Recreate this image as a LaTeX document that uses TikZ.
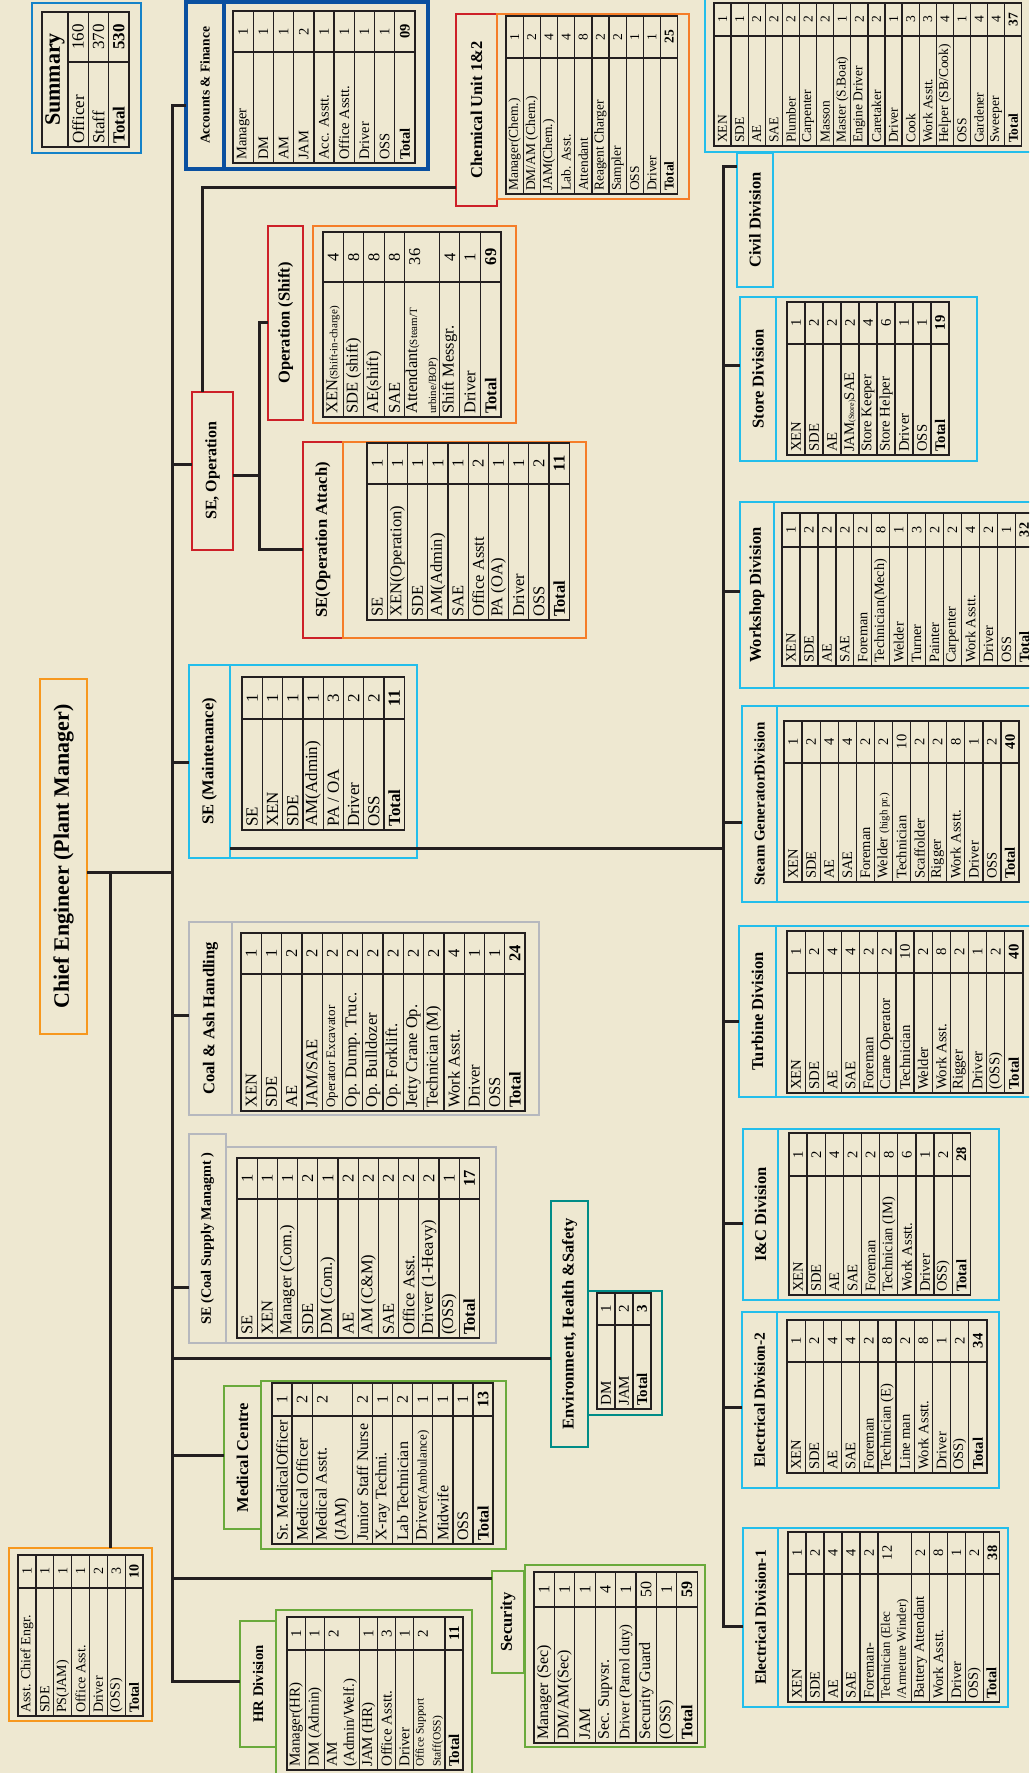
\documentclass[tikz,border=0pt]{standalone}
\usepackage{fontspec}
\setmainfont{Liberation Serif}
\definecolor{bgc}{RGB}{238,232,209}
\definecolor{lnc}{RGB}{35,31,32}
\definecolor{cyanc}{RGB}{35,190,235}
\definecolor{redc}{RGB}{205,32,40}
\definecolor{orc}{RGB}{245,125,40}
\definecolor{goldc}{RGB}{247,152,30}
\definecolor{grayc}{RGB}{182,184,190}
\definecolor{greenc}{RGB}{106,170,60}
\definecolor{tealc}{RGB}{0,140,135}
\definecolor{sumc}{RGB}{20,130,200}
\definecolor{accc}{RGB}{10,80,160}
\newcommand{\fsz}[2]{\fontsize{#1}{#2}\selectfont}
% #1 name, #2 left, #3 split, #4 right, #5 top, #6 row pitch, #7 font, #8 rows
\newcommand{\stafftab}[8]{%
  \foreach \ra/\rb/\nm/\nv [count=\rk] in {#8}{%
    \draw[tabline] (#2,{#5+\ra*#6}) rectangle (#4,{#5+\rb*#6});
    \draw[tabline] (#3,{#5+\ra*#6}) -- (#3,{#5+\rb*#6});
    \node[namecell, font=#7] (#1-n\rk) at ({#2+3},{#5+0.5*(\ra+\rb)*#6}) {\nm};
    \node[numcell, font=#7] (#1-v\rk) at ({0.5*(#3+#4)},{#5+(\ra+0.5)*#6}) {\nv};
  }%
}
\tikzset{
  conn/.style={draw=lnc, line width=3pt, line cap=rect},
  hdr/.style={draw=#1, line width=2.8pt, inner sep=0pt, align=center},
  tabbox/.style={draw=#1, line width=2.8pt, inner sep=0pt},
  tabline/.style={draw=lnc, line width=1.3pt},
  namecell/.style={anchor=west, inner sep=0pt, align=left},
  numcell/.style={inner sep=0pt}
}
\begin{document}
\begin{tikzpicture}
\begin{scope}[x=1pt, y=-1pt, rotate=90, transform shape]
\path[use as bounding box, fill=bgc] (0,0) rectangle (1773,1029);
\clip (0,0) rectangle (1773,1029);

\node[tabbox=sumc, minimum width=150, minimum height=109] (sumbox) at (1695,86.5) {};
\draw[tabline] (1626,42) rectangle (1761,68);
\node[font=\bfseries\fsz{22}{24}] (sumtitle) at (1693.5,55) {Summary};
\stafftab{sumt}{1626}{1711}{1761}{68}{20.33}{\fsz{17}{19}}{0/1/Officer/160, 1/2/Staff/370, 2/3/\textbf{Total}/\textbf{530}}

\node[hdr=goldc, minimum width=355, minimum height=47, font=\bfseries\fsz{22}{24}] (chief) at (916.5,63.5) {Chief Engineer (Plant Manager)};
\node[tabbox=goldc, minimum width=173, minimum height=143] (asstbox) at (138.5,80.5) {};
\stafftab{asstt}{57}{185}{218}{18}{17.86}{\fsz{14}{16}}{0/1/Asst. Chief Engr./1, 1/2/SDE/1, 2/3/PS(JAM)/1, 3/4/Office Asst./1, 4/5/Driver/2, 5/6/(OSS)/3, 6/7/\textbf{Total}/\textbf{10}}

\node[hdr=accc, line width=3.5pt, minimum width=167, minimum height=38, font=\bfseries\fsz{13.5}{15}] (acc) at (1687.5,205) {Accounts \& Finance};
\node[tabbox=accc, line width=3.5pt, minimum width=167, minimum height=204] (accbox) at (1687.5,326) {};
\stafftab{acct}{1610}{1721}{1762}{233}{20.22}{\fsz{14.5}{17}}{0/1/Manager/1, 1/2/DM/1, 2/3/AM/1, 3/4/JAM/2, 4/5/Acc. Asstt./1, 5/6/Office Asstt./1, 6/7/Driver/1, 7/8/OSS/1, 8/9/\textbf{Total}/\textbf{09}}

\node[hdr=redc, minimum width=158, minimum height=41, font=\bfseries\fsz{16}{18}] (seop) at (1302,212.5) {SE, Operation};
\node[hdr=redc, minimum width=194, minimum height=35, font=\bfseries\fsz{16.5}{18}] (opshift) at (1450,285.5) {Operation (Shift)};
\node[tabbox=orc, minimum width=197, minimum height=203] (opshiftbox) at (1448.5,414.5) {};
\stafftab{opst}{1356}{1491}{1541}{323}{20.4}{\fsz{16.5}{19}}{0/1/XEN{\fsz{11}{12}(Shift-in-charge)}/4, 1/2/SDE (shift)/8, 2/3/AE(shift)/8, 3/4/SAE/8, 4/5.72/{Attendant{\fsz{11}{12}(Steam/T}\\{\fsz{11}{12}urbine/BOP)}}/36, 5.72/6.7/Shift Messgr./4, 6.7/7.72/Driver/1, 7.72/8.73/\textbf{Total}/\textbf{69}}
\node[hdr=redc, minimum width=196, minimum height=40, font=\bfseries\fsz{16.5}{18}] (opatt) at (1233,323) {SE(Operation Attach)};
\node[tabbox=orc, minimum width=196, minimum height=243] (opattbox) at (1233,464.5) {};
\stafftab{opat}{1153}{1289}{1330}{367}{20.23}{\fsz{16.5}{19}}{0/1/SE/1, 1/2/XEN(Operation)/1, 2/3/SDE/1, 3/4/AM(Admin)/1, 4/5/SAE/1, 5/6/Office Asstt/2, 6/7/PA (OA)/1, 7/8/Driver/1, 8/9/OSS/2, 9/10/\textbf{Total}/\textbf{11}}
\node[hdr=redc, minimum width=192, minimum height=41, font=\bfseries\fsz{16.5}{18}] (chem) at (1663,476.5) {Chemical Unit 1\&2};
\node[tabbox=orc, minimum width=185, minimum height=192] (chembox) at (1666.5,593) {};
\stafftab{chemt}{1579}{1715}{1757}{506}{17.17}{\fsz{13.5}{15}}{0/1/Manager(Chem.)/1, 1/2/{DM/AM (Chem.)}/2, 2/3/JAM(Chem.)/4, 3/4/Lab. Asst./4, 4/5/Attendant/8, 5/6/Reagent Charger/2, 6/7/Sampler/2, 7/8/OSS/1, 8/9/Driver/1, 9/10/\textbf{Total}/\textbf{25}}

\node[hdr=cyanc, minimum width=193, minimum height=41, font=\bfseries\fsz{16.5}{18}] (semaint) at (1011.5,209.5) {SE (Maintenance)};
\node[tabbox=cyanc, minimum width=193, minimum height=187] (semaintbox) at (1011.5,323.5) {};
\stafftab{smt}{943}{1054}{1096}{242}{20.3}{\fsz{17}{19}}{0/1/SE/1, 1/2/XEN/1, 2/3/SDE/1, 3/4/AM(Admin)/1, 4/5/{PA / OA}/3, 5/6/Driver/2, 6/7/OSS/2, 7/8/\textbf{Total}/\textbf{11}}
\node[hdr=grayc, minimum width=193, minimum height=43, font=\bfseries\fsz{16.5}{18}] (coal) at (754.5,210.5) {Coal \& Ash Handling};
\node[tabbox=grayc, minimum width=193, minimum height=307] (coalbox) at (754.5,385.5) {};
\stafftab{cat}{662}{799}{840}{241}{20.29}{\fsz{16.5}{19}}{0/1/XEN/1, 1/2/SDE/1, 2/3/AE/2, 3/4/{JAM/SAE}/2, 4/5/{\fsz{13}{14}Operator Excavator}/2, 5/6/Op. Dump. Truc./2, 6/7/Op. Bulldozer/2, 7/8/Op. Forklift./2, 8/9/Jetty Crane Op./2, 9/10/Technician (M)/2, 10/11/Work Asstt./4, 11/12/Driver/1, 12/13/OSS/1, 13/14/\textbf{Total}/\textbf{24}}
\node[hdr=grayc, minimum width=209, minimum height=37, font=\bfseries\fsz{14.3}{16}] (coalsup) at (534.5,207.5) {SE (Coal Supply Managmt )};
\node[tabbox=grayc, minimum width=196, minimum height=270] (coalsupbox) at (528,361) {};
\stafftab{cst}{435}{574}{615}{237}{20.2}{\fsz{16.5}{19}}{0/1/SE/1, 1/2/XEN/1, 2/3/Manager (Com.)/1, 3/4/SDE/2, 4/5/DM (Com.)/1, 5/6/AE/2, 6/7/AM (C\&M)/2, 7/8/SAE/2, 8/9/Office Asst./2, 9/10/Driver (1-Heavy)/2, 10/11/(OSS)/1, 11/12/\textbf{Total}/\textbf{17}}
\node[hdr=tealc, minimum width=246, minimum height=37, font=\bfseries\fsz{16.5}{18}] (env) at (449,569.5) {Environment, Health \&Safety};
\node[tabbox=tealc, minimum width=124, minimum height=74] (envbox) at (420,625) {};
\stafftab{envt}{364}{448}{480}{597}{18}{\fsz{15}{17}}{0/1/DM/1, 1/2/JAM/2, 2/3/\textbf{Total}/\textbf{3}}
\node[hdr=greenc, minimum width=143, minimum height=37, font=\bfseries\fsz{16.5}{18}] (med) at (315.5,242.5) {Medical Centre};
\node[tabbox=greenc, minimum width=168, minimum height=245] (medbox) at (308,383.5) {};
\stafftab{medt}{229}{357}{390}{272}{20.1}{\fsz{16}{19}}{0/1/Sr. MedicalOfficer/1, 1/2/Medical Officer/2, 2/4/{Medical Asstt.\\(JAM)}/2, 4/5/Junior Staff Nurse/2, 5/6/X-ray Techni./1, 6/7/Lab Technician/2, 7/8/Driver{\fsz{13}{14}(Ambulance)}/1, 8/9/Midwife/1, 9/10/OSS/1, 10/11/\textbf{Total}/\textbf{13}}
\node[hdr=greenc, minimum width=102, minimum height=32, font=\bfseries\fsz{16.5}{18}] (sec) at (151,508) {Security};
\node[tabbox=greenc, minimum width=182, minimum height=180] (secbox) at (117,615) {};
\stafftab{sect}{30}{166}{201}{534}{20.4}{\fsz{16}{19}}{0/1/Manager (Sec)/1, 1/2/{DM/AM(Sec)}/1, 2/3/JAM/1, 3/4/Sec. Supvsr./4, 4/5/{\fsz{14.5}{16}Driver (Patrol duty)}/1, 5/6/Security Guard/50, 6/7/(OSS)/1, 7/8/\textbf{Total}/\textbf{59}}
\node[hdr=greenc, minimum width=126, minimum height=36, font=\bfseries\fsz{14.7}{16}] (hr) at (89,258) {HR Division};
\node[tabbox=greenc, minimum width=183, minimum height=196] (hrbox) at (71.5,374) {};
\stafftab{hrt}{3}{123}{156}{287}{18.3}{\fsz{15}{17}}{0/1/Manager(HR)/1, 1/2.05/DM (Admin)/1, 2.05/3.95/{AM\\(Admin/Welf.)}/2, 3.95/4.95/JAM (HR)/1, 4.95/5.93/Office Asstt./3, 5.93/6.92/Driver/1, 6.92/8.63/{{\fsz{11.5}{13}Office Support}\\{\fsz{11.5}{13}Staff(OSS)}}/2, 8.63/9.62/\textbf{Total}/\textbf{11}}

\node[hdr=cyanc, minimum width=134, minimum height=36, font=\bfseries\fsz{16.5}{18}] (civil) at (1553,755) {Civil Division};
\node[tabbox=cyanc, minimum width=179, minimum height=335] (civilbox) at (1710.5,872.5) {};
\stafftab{civt}{1627}{1737}{1770}{714}{17.1}{\fsz{13.5}{15}}{0/1/XEN/1, 1/2/SDE/1, 2/3/AE/2, 3/4/SAE/2, 4/5/Plumber/2, 5/6/Carpenter/2, 6/7/Masson/2, 7/8/Master (S.Boat)/1, 8/9/Engine Driver/2, 9/10/Caretaker/2, 10/11/Driver/1, 11/12/Cook/3, 12/13/Work Asstt./3, 13/14/{Helper (SB/Cook)}/4, 14/15/OSS/1, 15/16/Gardener/4, 16/17/Sweeper/4, 17/18/\textbf{Total}/\textbf{37}}
\node[hdr=cyanc, minimum width=164, minimum height=36, font=\bfseries\fsz{16.5}{18}] (store) at (1394,758) {Store Division};
\node[tabbox=cyanc, minimum width=164, minimum height=201] (storebox) at (1394,876.5) {};
\stafftab{stot}{1318}{1429}{1471}{787}{18}{\fsz{14.7}{16}}{0/1/XEN/1, 1/2/SDE/2, 2/3/AE/2, 3/4/JAM{\fsz{8}{9}(Store)}SAE/2, 4/5/Store Keeper/4, 5/6/Store Helper/6, 6/7/Driver/1, 7/8/OSS/1, 8/9/\textbf{Total}/\textbf{19}}
\node[hdr=cyanc, minimum width=186, minimum height=34, font=\bfseries\fsz{16.5}{18}] (work) at (1178,757) {Workshop Division};
\node[tabbox=cyanc, minimum width=186, minimum height=266] (workbox) at (1178,907) {};
\stafftab{wrkt}{1107}{1226}{1260}{782}{17.95}{\fsz{14.2}{16}}{0/1/XEN/1, 1/2/SDE/2, 2/3/AE/2, 3/4/SAE/2, 4/5/Foreman/2, 5/6/Technician(Mech)/8, 6/7/Welder/1, 7/8/Turner/3, 8/9/Painter/2, 9/10/Carpenter/2, 10/11/Work Asstt./4, 11/12/Driver/2, 12/13/OSS/1, 13/14/\textbf{Total}/\textbf{32}}
\node[hdr=cyanc, minimum width=196, minimum height=35, font=\bfseries\fsz{15}{17}] (steam) at (969,759.5) {Steam GeneratorDivision};
\node[tabbox=cyanc, minimum width=196, minimum height=263] (steambox) at (969,908.5) {};
\stafftab{stmt}{891}{1010}{1052}{784}{18.08}{\fsz{14.5}{16}}{0/1/XEN/1, 1/2/SDE/2, 2/3/AE/4, 3/4/SAE/4, 4/5/Foreman/2, 5/6/Welder {\fsz{11}{12}(high pr.)}/2, 6/7/Technician/10, 7/8/Scaffolder/2, 8/9/Rigger/2, 9/10/Work Asstt./8, 10/11/Driver/1, 11/12/OSS/2, 12/13/\textbf{Total}/\textbf{40}}
\node[hdr=cyanc, minimum width=171, minimum height=37, font=\bfseries\fsz{16.5}{18}] (turb) at (761.5,757.5) {Turbine Division};
\node[tabbox=cyanc, minimum width=171, minimum height=264] (turbbox) at (761.5,908) {};
\stafftab{trbt}{680}{800}{842}{787}{18.15}{\fsz{14.8}{16}}{0/1/XEN/1, 1/2/SDE/2, 2/3/AE/4, 3/4/SAE/4, 4/5/Foreman/2, 5/6/Crane Operator/2, 6/7/Technician/10, 7/8/Welder/2, 8/9/Work Asst./8, 9/10/Rigger/2, 10/11/Driver/1, 11/12/(OSS)/2, 12/13/\textbf{Total}/\textbf{40}}
\node[hdr=cyanc, minimum width=171, minimum height=35, font=\bfseries\fsz{16.5}{18}] (inc) at (558.5,760.5) {I\&C Division};
\node[tabbox=cyanc, minimum width=171, minimum height=221] (incbox) at (558.5,888.5) {};
\stafftab{inct}{478}{597}{640}{789}{18.14}{\fsz{14.6}{16}}{0/1/XEN/1, 1/2/SDE/2, 2/3/AE/4, 3/4/SAE/2, 4/5/Foreman/2, 5/6/Technician (IM)/8, 6/7/Work Asstt./6, 7/8/Driver/1, 8/9/OSS)/2, 9/10/\textbf{Total}/\textbf{28}}
\node[hdr=cyanc, minimum width=176, minimum height=35, font=\bfseries\fsz{15.5}{17}] (el2) at (373,759.5) {Electrical Division-2};
\node[tabbox=cyanc, minimum width=176, minimum height=222] (el2box) at (373,888) {};
\stafftab{el2t}{300}{411}{453}{787}{18.18}{\fsz{14.6}{16}}{0/1/XEN/1, 1/2/SDE/2, 2/3/AE/4, 3/4/SAE/4, 4/5/Foreman/2, 5/6/Technician (E)/8, 6/7/Line man/2, 7/8/Work Asstt./8, 8/9/Driver/1, 9/10/OSS)/2, 10/11/\textbf{Total}/\textbf{34}}
\node[hdr=cyanc, minimum width=179, minimum height=35, font=\bfseries\fsz{15.5}{17}] (el1) at (155.5,760.5) {Electrical Division-1};
\node[tabbox=cyanc, minimum width=179, minimum height=230] (el1box) at (155.5,893) {};
\stafftab{el1t}{71}{199}{241}{788}{18}{\fsz{14.4}{16}}{0/1/XEN/1, 1/2/SDE/2, 2/3/AE/4, 3/4/SAE/4, 4/5/Foreman-/2, 5/6.85/{{\fsz{13}{15}Technician (Elec}\\{\fsz{13}{15}/Armeture Winder)}}/12, 6.85/7.85/Battery Attendant/2, 7.85/8.85/Work Asstt./8, 8.85/9.85/Driver/1, 9.85/10.85/OSS)/2, 10.85/11.75/\textbf{Total}/\textbf{38}}

\coordinate (jAcc) at (1667,172);
\coordinate (jSeop) at (1308,172);
\coordinate (jMaint) at (1010,172);
\coordinate (jCE) at (900,172);
\coordinate (jCoal) at (757,172);
\coordinate (jCoalSup) at (485,172);
\coordinate (jEnv) at (414,172);
\coordinate (jMed) at (317,172);
\coordinate (jSec) at (194,172);
\coordinate (jHR) at (91,172);
\coordinate (jAsst) at (900,110);
\coordinate (jChem) at (1585,202);
\coordinate (jOp) at (1297,259);
\coordinate (jShift) at (1450,259);
\coordinate (jAtt) at (1223,259);
\coordinate (jLow) at (924,723);
\coordinate (lTop) at (1606,723);
\coordinate (lStore) at (1407,723);
\coordinate (lWork) at (1181,723);
\coordinate (lSteam) at (950,723);
\coordinate (lTurb) at (751,723);
\coordinate (lInc) at (549,723);
\coordinate (lEl2) at (365,723);
\coordinate (lBot) at (146,723);

\draw[conn] (jAcc) -- (jHR);
\draw[conn] (jAcc) -- (jAcc |- acc.north);
\draw[conn] (jSeop) -- (jSeop |- seop.north);
\draw[conn] (jMaint) -- (jMaint |- semaint.north);
\draw[conn] (jCE |- chief.south) -- (jCE);
\draw[conn] (jAsst) -- (asstbox.east |- jAsst);
\draw[conn] (jCoal) -- (jCoal |- coal.north);
\draw[conn] (jCoalSup) -- (jCoalSup |- coalsup.north);
\draw[conn] (jEnv) -- (jEnv |- env.north);
\draw[conn] (jMed) -- (jMed |- med.north);
\draw[conn] (jSec) -- (jSec |- sec.north);
\draw[conn] (jHR) -- (jHR |- hr.north);
\draw[conn] (seop.east |- jChem) -- (jChem) -- (jChem |- chem.north);
\draw[conn] (jOp |- seop.south) -- (jOp);
\draw[conn] (jShift) -- (jAtt);
\draw[conn] (jShift) -- (jShift |- opshift.north);
\draw[conn] (jAtt) -- (jAtt |- opatt.north);
\draw[conn] (jLow |- semaint.south) -- (jLow);
\draw[conn] (lTop) -- (lBot) -- (lBot |- el1.north);
\draw[conn] (lTop) -- (lTop |- civil.north);
\draw[conn] (lStore) -- (lStore |- store.north);
\draw[conn] (lWork) -- (lWork |- work.north);
\draw[conn] (lSteam) -- (lSteam |- steam.north);
\draw[conn] (lTurb) -- (lTurb |- turb.north);
\draw[conn] (lInc) -- (lInc |- inc.north);
\draw[conn] (lEl2) -- (lEl2 |- el2.north);
\end{scope}
\end{tikzpicture}
\end{document}
